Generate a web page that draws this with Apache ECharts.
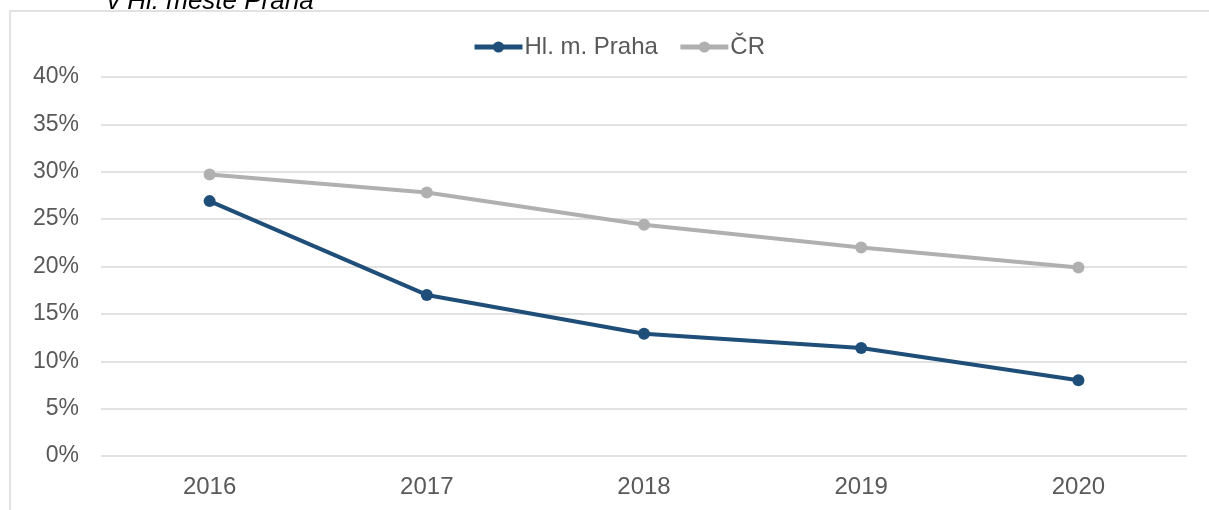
<!DOCTYPE html>
<html>
<head>
<meta charset="utf-8">
<script src="https://cdn.jsdelivr.net/npm/echarts@6/dist/echarts.min.js"></script>
<style>
  html, body { margin: 0; padding: 0; background: #fff; }
  #chart { width: 1209px; height: 510px; }
</style>
</head>
<body>
<div id="chart"></div>
<script>
var years = ['2016', '2017', '2018', '2019', '2020'];
var praha = [26.9, 17.0, 12.9, 11.4, 8.0];
var cr = [29.7, 27.8, 24.4, 22.0, 19.9];
var seriesNames = ['Hl. m. Praha', 'ČR'];

window.onload = function() {
    var chart = echarts.init(document.getElementById('chart'));

    var option = {
        backgroundColor: '#fff',
        animation: false,
        graphic: [{
            type: 'rect',
            shape: { x: 10, y: 11, width: 1300, height: 600 },
            style: { fill: 'none', stroke: '#d9d9d9', lineWidth: 1.5 }
        }, {
            type: 'text',
            left: 107,
            top: -11,
            style: {
                text: 'v Hl. městě Praha',
                font: 'italic 26px "Liberation Sans", Arial, sans-serif',
                fill: '#000'
            }
        }],
        legend: {
            data: seriesNames,
            top: 30,
            left: 467,
            itemWidth: 48,
            itemHeight: 14,
            itemGap: 20,
            lineStyle: { width: 5 },
            textStyle: {
                color: '#595959',
                fontSize: 24,
                padding: [0, 0, 0, -3],
                fontFamily: '"Liberation Sans", Arial, sans-serif'
            }
        },
        grid: {
            left: 101,
            right: 22,
            top: 77,
            bottom: 54,
            containLabel: false
        },
        xAxis: {
            type: 'category',
            data: years,
            boundaryGap: true,
            axisLine: { show: false },
            axisTick: { show: false },
            axisLabel: {
                color: '#595959',
                fontSize: 24,
                margin: 19,
                fontFamily: '"Liberation Sans", Arial, sans-serif'
            }
        },
        yAxis: {
            type: 'value',
            min: 0,
            max: 40,
            interval: 5,
            axisLine: { show: false },
            axisTick: { show: false },
            axisLabel: {
                formatter: '{value}%',
                color: '#595959',
                fontSize: 23,
                margin: 22,
                fontFamily: '"Liberation Sans", Arial, sans-serif'
            },
            splitLine: {
                lineStyle: { color: '#d9d9d9', width: 1.5 }
            }
        },
        series: [{
            name: seriesNames[0],
            type: 'line',
            data: praha,
            symbol: 'circle',
            symbolSize: 12,
            lineStyle: { color: '#1f4e79', width: 4 },
            itemStyle: { color: '#1f4e79' }
        }, {
            name: seriesNames[1],
            type: 'line',
            data: cr,
            symbol: 'circle',
            symbolSize: 12,
            lineStyle: { color: '#b0b0b0', width: 4 },
            itemStyle: { color: '#b0b0b0' }
        }]
    };

    chart.setOption(option);
};
</script>
</body>
</html>
